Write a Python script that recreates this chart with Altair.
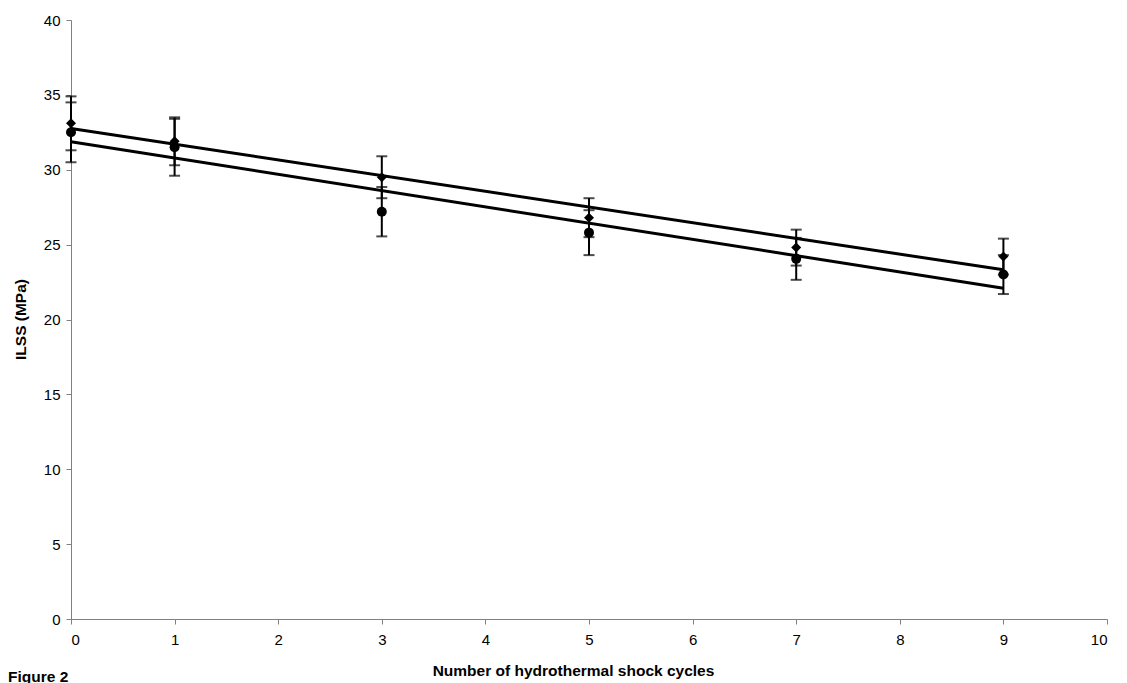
import altair as alt
import pandas as pd

cycles = [0, 1, 3, 5, 7, 9]
diamond_ilss = [33.1, 31.9, 29.5, 26.8, 24.8, 24.2]
diamond_err = [1.8, 1.6, 1.4, 1.3, 1.2, 1.2]
circle_ilss = [32.5, 31.5, 27.2, 25.8, 24.05, 23.0]
circle_err = [2.0, 1.9, 1.65, 1.5, 1.4, 1.3]

rows = []
for x, y, e in zip(cycles, diamond_ilss, diamond_err):
    rows.append({"x": x, "y": y, "lo": y - e, "hi": y + e, "series": "A"})
for x, y, e in zip(cycles, circle_ilss, circle_err):
    rows.append({"x": x, "y": y, "lo": y - e, "hi": y + e, "series": "B"})
df = pd.DataFrame(rows)

FONT = "Liberation Sans"

xs = alt.X("x:Q", scale=alt.Scale(domain=[0, 10], nice=False),
           axis=alt.Axis(values=list(range(0, 11)), format="d",
                         title="Number of hydrothermal shock cycles",
                         titleX=502, titleY=44, titleFontWeight="bold", titleFontSize=15.5,
                         labelPadding=8, tickSize=5))
ys = alt.Y("y:Q", scale=alt.Scale(domain=[0, 40], nice=False),
           axis=alt.Axis(values=list(range(0, 41, 5)), format="d", title="ILSS (MPa)",
                         titleX=-43, titleY=299, titleFontWeight="bold", titleFontSize=15.5,
                         labelPadding=6, tickSize=5))

base = alt.Chart(df)

bars = base.mark_rule(color="black", strokeWidth=2).encode(
    x=xs, y=alt.Y("lo:Q"), y2="hi:Q")
caps_lo = base.mark_tick(color="black", thickness=2, size=11, orient="horizontal").encode(
    x="x:Q", y="lo:Q")
caps_hi = base.mark_tick(color="black", thickness=2, size=11, orient="horizontal").encode(
    x="x:Q", y="hi:Q")

pts_d = base.transform_filter(alt.datum.series == "A").mark_point(
    shape="diamond", filled=True, color="black", size=100, opacity=1).encode(x="x:Q", y=ys)
pts_c = base.transform_filter(alt.datum.series == "B").mark_point(
    shape="circle", filled=True, color="black", size=100, opacity=1).encode(x="x:Q", y="y:Q")

trend = base.transform_regression("x", "y", groupby=["series"]).mark_line(
    color="black", strokeWidth=3).encode(x="x:Q", y="y:Q", detail="series:N")

fig = alt.Chart(pd.DataFrame({"t": ["Figure 2"]})).mark_text(
    align="left", baseline="middle", fontWeight="bold", fontSize=15.5, font=FONT, color="black"
).encode(x=alt.value(-63), y=alt.value(657), text="t:N")

chart = alt.layer(trend, bars, caps_lo, caps_hi, pts_d, pts_c, fig).properties(
    width=1036, height=599,
    autosize=alt.AutoSizeParams(type="none"),
    padding={"left": 63, "top": 12, "right": 12, "bottom": 64},
).configure_view(stroke=None).configure_axis(
    grid=False, domainColor="#808080", tickColor="#808080", labelColor="black",
    labelFont=FONT, titleFont=FONT, labelFontSize=15, titleColor="black",
    domainWidth=1, tickWidth=1,
)

chart.save("out.html", embed_options={"renderer": "svg", "actions": False})
